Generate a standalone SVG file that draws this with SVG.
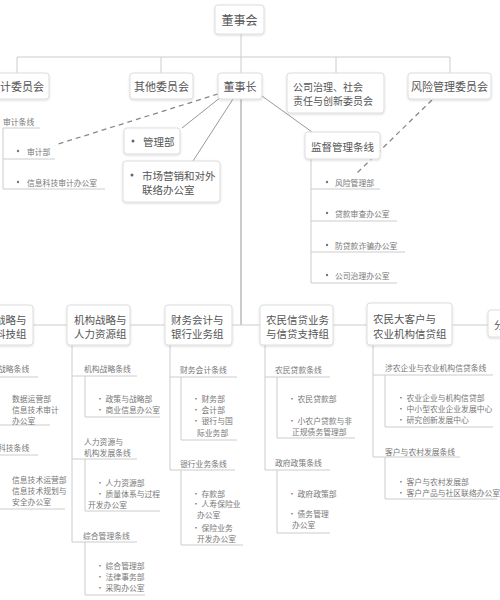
<svg xmlns="http://www.w3.org/2000/svg" width="500" height="600" viewBox="0 0 500 600">
<defs>
<filter id="sh" x="-20%" y="-20%" width="140%" height="160%"><feDropShadow dx="0" dy="1" stdDeviation="1.2" flood-color="#000" flood-opacity="0.15"/></filter>
<style>
text{font-family:"Noto Sans CJK SC","Noto Sans",sans-serif;dominant-baseline:central;fill:#555}
.box{fill:#fff;stroke:#ddd;stroke-width:1;filter:url(#sh)}
.t11{font-size:11px}
.t105{font-size:10.5px}
.c{text-anchor:middle}
.s{font-size:7.8px;fill:#777}
.ln{stroke:#ccc;stroke-width:1;fill:none}
.main{stroke:#999;stroke-width:1;fill:none}
.dash{stroke:#888;stroke-width:1.3;stroke-dasharray:5 4;fill:none}
.sol{stroke:#999;stroke-width:1;fill:none}
.ul{stroke:#ccc;stroke-width:1;fill:none}
</style>
</defs>
<rect width="500" height="600" fill="#fff"/>
<g id="connectors">
<path class="ln" d="M241 34V57M17 57H450M17 57V73M161 57V73M241 57V73M336 57V73M450 57V73"/>
<path class="dash" d="M218 94L55 145"/>
<path class="dash" d="M432 100L355 175"/>
<path class="sol" d="M221 97L182 128M233 99L193 161M262 96L312 132"/>
<path class="main" d="M241 99V325"/>
<path class="ln" d="M33 325H488"/>
<path class="ln" d="M311 159V283"/>
<path class="ln" d="M3 128V189M3 128H40M3 159H55M3 189H105"/>
<path class="ul" d="M311 189H380M311 221H397M311 252H405M311 283H397"/>
<path class="ul" d="M0 377H38M0 425H50M0 455H38M0 509H65"/>
<path class="ln" d="M72 345V542M72 376H137M85 376V417H160M72 459H137M85 459V511H160M72 542H137M85 542V595H145"/>
<path class="ln" d="M170 345V470M170 377H237M181 377V440H237M170 470H235M181 470V545H243"/>
<path class="ln" d="M265 345V470M265 377H330M277 377V438H355M265 470H330M277 470V533H330"/>
<path class="ln" d="M373 345V457M373 375H493M385 375V427H493M373 457H460M385 457V499H497"/>
</g>
<g id="board"><rect class="box" x="215" y="5" width="49" height="29" rx="3"/><text class="c" x="239.5" y="19.5" style="font-size:12px">董事会</text></g>
<g id="audit-committee"><rect class="box" x="-16" y="73" width="65" height="26" rx="3"/><text class="t11 c" x="16.5" y="86">审计委员会</text></g>
<g id="other-committee"><rect class="box" x="130" y="73" width="63" height="26" rx="3"/><text class="t11 c" x="161.5" y="86">其他委员会</text></g>
<g id="chairman"><rect class="box" x="218" y="73" width="44" height="26" rx="3"/><text class="t11 c" x="240" y="86">董事长</text></g>
<g id="governance-committee"><rect class="box" x="287" y="73" width="97" height="40" rx="3"/><text x="293" y="86.5" style="font-size:10px">公司治理、社会</text><text x="293" y="100" style="font-size:10px">责任与创新委员会</text></g>
<g id="risk-committee"><rect class="box" x="408" y="73" width="83" height="26" rx="3"/><text class="t11 c" x="449.5" y="86">风险管理委员会</text></g>
<g id="audit-line">
<text class="s" x="3" y="121">审计条线</text>
<circle cx="18" cy="151" r="1.2" fill="#777"/><text class="s" x="27" y="151">审计部</text>
<circle cx="18" cy="182" r="1.2" fill="#777"/><text class="s" x="27" y="182">信息科技审计办公室</text>
</g>
<g id="mgmt-dept"><rect class="box" x="124" y="128" width="56" height="26" rx="3"/><circle cx="133" cy="141" r="1.5" fill="#666"/><text class="t105" x="143" y="141">管理部</text></g>
<g id="marketing-office"><rect class="box" x="123" y="161" width="97" height="41" rx="3"/><circle cx="132" cy="175" r="1.5" fill="#666"/><text class="t105" x="142" y="175">市场营销和对外</text><text class="t105" x="142" y="189">联络办公室</text></g>
<g id="supervision-line"><rect class="box" x="305" y="132" width="75" height="27" rx="3"/><text class="t105 c" x="342.5" y="146">监督管理条线</text>
<circle cx="327" cy="182" r="1.2" fill="#777"/><text class="s" x="335" y="182">风险管理部</text>
<circle cx="327" cy="213" r="1.2" fill="#777"/><text class="s" x="335" y="213">贷款审查办公室</text>
<circle cx="327" cy="245" r="1.2" fill="#777"/><text class="s" x="335" y="245">防贷款诈骗办公室</text>
<circle cx="327" cy="275" r="1.2" fill="#777"/><text class="s" x="335" y="275">公司治理办公室</text>
</g>
<g id="tech-group"><rect class="box" x="-10" y="305" width="43" height="40" rx="3"/><text class="t105" x="-5" y="319">战略与</text><text class="t105" x="-5" y="333">科技组</text>
<text class="s" x="-2" y="368">战略条线</text>
<text class="s" x="12" y="398">数据运营部</text><text class="s" x="12" y="409">信息技术审计</text><text class="s" x="12" y="420">办公室</text>
<text class="s" x="-2" y="447">科技条线</text>
<text class="s" x="12" y="479">信息技术运营部</text><text class="s" x="12" y="490">信息技术规划与</text><text class="s" x="12" y="501">安全办公室</text>
</g>
<g id="hr-group"><rect class="box" x="67" y="305" width="63" height="40" rx="3"/><text class="t105" x="74" y="319">机构战略与</text><text class="t105" x="74" y="333">人力资源组</text>
<text class="s" x="84" y="368">机构战略条线</text>
<text class="s" x="96" y="398">· 政策与战略部</text><text class="s" x="96" y="409">· 商业信息办公室</text>
<text class="s" x="84" y="441">人力资源与</text><text class="s" x="84" y="452">机构发展条线</text>
<text class="s" x="96" y="482">· 人力资源部</text><text class="s" x="96" y="493">· 质量体系与过程</text><text class="s" x="88" y="504">开发办公室</text>
<text class="s" x="83" y="535">综合管理条线</text>
<text class="s" x="96" y="565">· 综合管理部</text><text class="s" x="96" y="576">· 法律事务部</text><text class="s" x="96" y="587">· 采购办公室</text>
</g>
<g id="finance-group"><rect class="box" x="165" y="305" width="67" height="40" rx="3"/><text class="t105" x="171" y="319">财务会计与</text><text class="t105" x="171" y="333">银行业务组</text>
<text class="s" x="180" y="369">财务会计条线</text>
<text class="s" x="192" y="398">· 财务部</text><text class="s" x="192" y="409">· 会计部</text><text class="s" x="192" y="420">· 银行与国</text><text class="s" x="197" y="432">际业务部</text>
<text class="s" x="180" y="463">银行业务条线</text>
<text class="s" x="192" y="493">· 存款部</text><text class="s" x="192" y="503">· 人寿保险业</text><text class="s" x="197" y="514">办公室</text><text class="s" x="192" y="527">· 保险业务</text><text class="s" x="197" y="538">开发办公室</text>
</g>
<g id="farmer-credit-group"><rect class="box" x="260" y="305" width="73" height="40" rx="3"/><text class="t105" x="266" y="319">农民信贷业务</text><text class="t105" x="266" y="333">与信贷支持组</text>
<text class="s" x="275" y="369">农民贷款条线</text>
<text class="s" x="288" y="398">· 农民贷款部</text><text class="s" x="288" y="420">· 小农户贷款与非</text><text class="s" x="292" y="431">正规债务管理部</text>
<text class="s" x="275" y="462">政府政策条线</text>
<text class="s" x="288" y="493">· 政府政策部</text><text class="s" x="288" y="513">· 债务管理</text><text class="s" x="292" y="524">办公室</text>
</g>
<g id="big-client-group"><rect class="box" x="367" y="303" width="85" height="42" rx="3"/><text class="t105" x="373" y="318">农民大客户与</text><text class="t105" x="373" y="333">农业机构信贷组</text>
<text class="s" x="385" y="367">涉农企业与农业机构信贷条线</text>
<text class="s" x="397" y="397">· 农业企业与机构信贷部</text><text class="s" x="397" y="408">· 中小型农业企业发展中心</text><text class="s" x="397" y="419">· 研究创新发展中心</text>
<text class="s" x="385" y="451">客户与农村发展条线</text>
<text class="s" x="397" y="481">· 客户与农村发展部</text><text class="s" x="397" y="492">· 客户产品与社区联络办公室</text>
</g>
<g id="branch-group"><rect class="box" x="488" y="310" width="20" height="27" rx="3"/><text class="t105" x="494" y="324">分</text></g>
</svg>
